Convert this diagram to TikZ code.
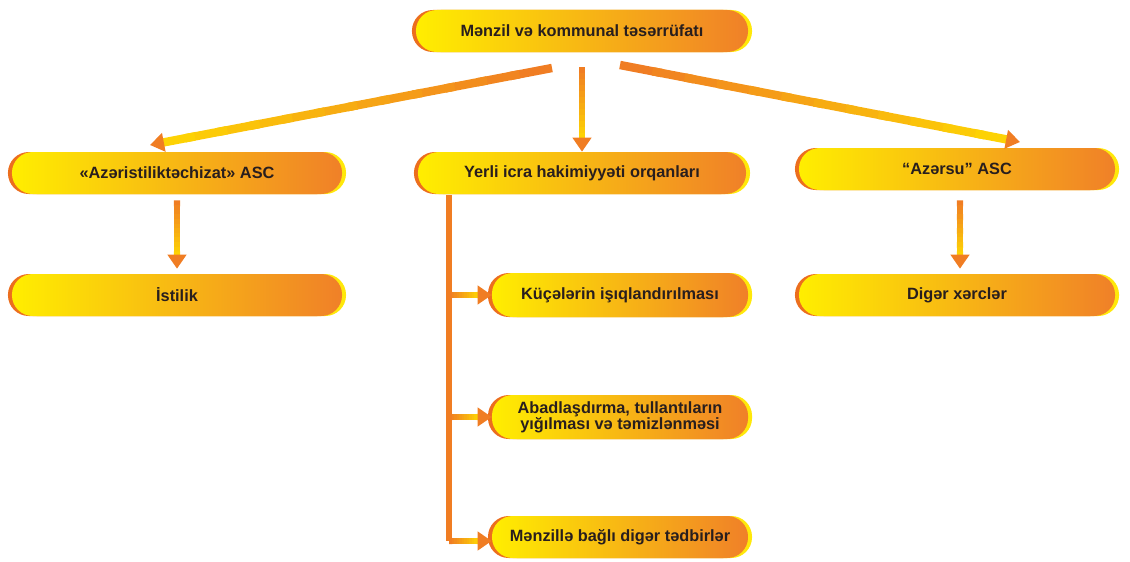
\documentclass[tikz,border=0pt]{standalone}
\usepackage{fontspec}
\setmainfont{Liberation Sans}
\usepackage{tikz}
\usetikzlibrary{arrows.meta}
\usetikzlibrary{calc}

\definecolor{pillY}{RGB}{255,238,0}
\definecolor{pillO}{RGB}{240,128,40}
\definecolor{rimO}{RGB}{236,110,30}
\definecolor{rimY}{RGB}{255,232,10}
\definecolor{arrY}{RGB}{255,222,0}
\definecolor{arrO}{RGB}{240,125,35}
\definecolor{txt}{RGB}{40,30,30}

\tikzset{
	pill/.style = {rectangle, rounded corners=0.52cm, minimum height=1.05cm,
		left color=pillY, right color=pillO, draw=none,
		preaction={fill=rimY, transform canvas={xshift=0.1cm}},
		preaction={fill=rimO, transform canvas={xshift=-0.1cm}},
		font=\bfseries\fontsize{11.6}{13.4}\selectfont, text=txt, align=center},
	trunk/.style = {line width=4pt, draw=arrO}
}

% gradient arrow: yellow at the start, orange at the tip
\newcommand{\flowarrow}[3][5pt]{
	\coordinate (fa-e) at ($(#3)!9pt!(#2)$);
	\foreach \i in {0,...,11}{
		\pgfmathsetmacro\ta{\i/12}
		\pgfmathsetmacro\tb{min(1,(\i+1.3)/12)}
		\pgfmathtruncatemacro\mix{100-\i*8}
		\draw [line width=#1, draw=arrO!\mix!arrY] ($(#2)!\ta!(fa-e)$) -- ($(#2)!\tb!(fa-e)$);
	}
	\draw [-{Triangle[length=10pt,width=13pt]}, line width=#1, draw=arrO] ($(fa-e)!0.5!(#3)$) -- (#3);
}

\begin{document}
\begin{tikzpicture}[x=0.025cm, y=-0.025cm]
	\useasboundingbox (0,0) rectangle (1130,561);

	\node [pill, minimum width=8.3cm] (top) at (582,31) {Mənzil və kommunal təsərrüfatı};

	\node [pill, minimum width=8.25cm] (teschizat) at (177,173) {«Azəristiliktəchizat» ASC};
	\node [pill, minimum width=8.2cm] (yerli) at (582,173) {Yerli icra hakimiyyəti orqanları};
	\node [pill, minimum width=7.9cm] (azersu) at (957,169) {“Azərsu” ASC};

	\node [pill, minimum width=8.25cm] (istilik) at (177,295) {İstilik};
	\node [pill, minimum width=7.9cm] (diger) at (957,295) {Digər xərclər};

	\node [pill, minimum width=6.4cm, minimum height=1.1cm] (kuce) at (620,295) {Küçələrin işıqlandırılması};
	\node [pill, minimum width=6.4cm, minimum height=1.1cm] (abad) at (620,417) {Abadlaşdırma, tullantıların\\[-2pt]yığılması və təmizlənməsi};
	\node [pill, minimum width=6.4cm] (menzil) at (620,537) {Mənzillə bağlı digər tədbirlər};

	% from the top box
	\coordinate (top-l) at (552,68);
	\coordinate (top-m) at (582,67);
	\coordinate (top-r) at (620,65);
	\coordinate (to-l) at (150,145);
	\coordinate (to-r) at (1020,142);
	\flowarrow[6pt]{top-l}{to-l}
	\flowarrow[4pt]{top-m}{yerli.north}
	\flowarrow[6pt]{top-r}{to-r}

	\coordinate (tes-d) at ($(teschizat.south)+(0,6)$);
	\coordinate (ist-u) at ($(istilik.north)+(0,-5)$);
	\flowarrow[4.5pt]{tes-d}{ist-u}
	\coordinate (azs-d) at ($(azersu.south)+(3,10)$);
	\coordinate (dig-u) at ($(diger.north)+(3,-5)$);
	\flowarrow[4.5pt]{azs-d}{dig-u}

	% trunk under the local authorities
	\coordinate (tr-top) at (449,195);
	\coordinate (tr-end) at (449,541);
	\draw [trunk] (tr-top) -- (tr-end);
	\flowarrow[4.5pt]{tr-top |- kuce.west}{kuce.west}
	\flowarrow[4.5pt]{tr-top |- abad.west}{abad.west}
	\flowarrow[4.5pt]{tr-end}{tr-end -| menzil.west}
\end{tikzpicture}
\end{document}
